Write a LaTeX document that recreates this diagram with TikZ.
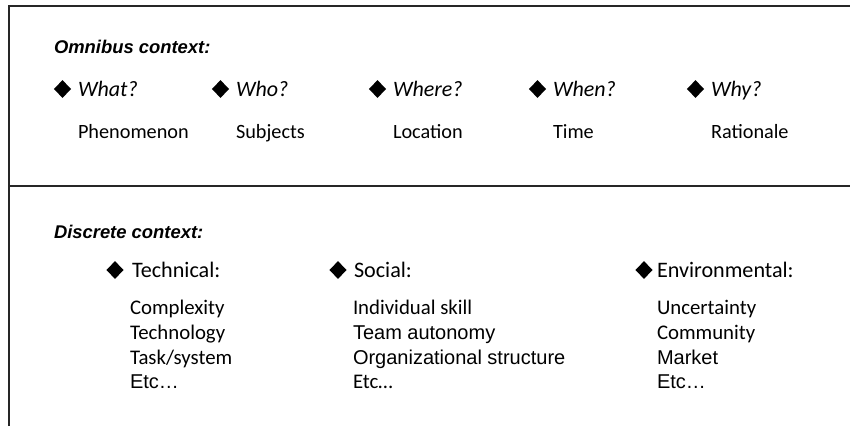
\documentclass[tikz,border=0pt]{standalone}
\usepackage{fontspec}
\setmainfont{Carlito}
\newfontfamily\arialfont{Liberation Sans}
\usetikzlibrary{shapes.geometric}

\tikzset{
  rule/.style={line width=1.5pt, line join=miter, black!85},
  bullet/.style={diamond, fill=black, inner sep=0pt, minimum width=13pt, minimum height=13.5pt},
  txt/.style={anchor=base west, inner sep=0pt, outer sep=0pt},
  paneltitle/.style={txt, font=\arialfont\bfseries\itshape\fontsize{13.8}{16}\selectfont},
  question/.style={txt, font=\itshape\fontsize{16.5}{20}\selectfont},
  aspect/.style={txt, font=\fontsize{15.2}{18}\selectfont},
  cathead/.style={txt, font=\fontsize{16.6}{19}\selectfont},
  calitem/.style={txt, font=\fontsize{15.6}{18}\selectfont},
  arialitem/.style={txt, font=\arialfont\fontsize{15}{18}\selectfont},
}

\begin{document}
\begin{tikzpicture}[x=0.75pt, y=-0.75pt]
  \useasboundingbox (0,0) rectangle (850,426);

  % frame: left rule, top rule and the divider between the panels
  \draw[rule] (9,426) -- (9,6) -- (850,6);
  \draw[rule] (9,186) -- (850,186);

  % --- Omnibus context (top panel) ---
  \node[paneltitle] (omnibus) at (54,53) {Omnibus context:};
  \foreach \n/\x/\q/\a in {what/78/What?/Phenomenon, who/236/Who?/Subjects,
      where/393/Where?/Location, when/553/When?/Time, why/711/Why?/Rationale} {
    \node[bullet] (\n-b) at (\x-15.5,89) {};
    \node[question] (\n) at (\x,96) {\q};
    \node[aspect] (\n-a) at (\x,138) {\a};
  }

  % --- Discrete context (bottom panel) ---
  \node[paneltitle] (discrete) at (54,238) {Discrete context:};

  % Technical
  \node[bullet] (tech-b) at (115,270) {};
  \node[cathead] (tech) at (132,277) {Technical:};
  \node[calitem] (tech-1) at (130,314) {Complexity};
  \node[calitem] (tech-2) at (130,339) {Technology};
  \node[calitem] (tech-3) at (130,364) {Task/system};
  \node[arialitem] (tech-4) at (130,388) {Etc…};

  % Social
  \node[bullet] (soc-b) at (338,270) {};
  \node[cathead] (soc) at (354,277) {Social:};
  \node[calitem] (soc-1) at (353,314) {Individual skill};
  \node[arialitem] (soc-2) at (353,339) {Team autonomy};
  \node[arialitem] (soc-3) at (353,364) {Organizational structure};
  \node[calitem] (soc-4) at (353,388) {Etc…};

  % Environmental
  \node[bullet] (env-b) at (644,270) {};
  \node[cathead] (env) at (657,277) {Environmental:};
  \node[calitem] (env-1) at (657,314) {Uncertainty};
  \node[calitem] (env-2) at (657,339) {Community};
  \node[arialitem] (env-3) at (657,364) {Market};
  \node[arialitem] (env-4) at (657,388) {Etc…};

\end{tikzpicture}
\end{document}
